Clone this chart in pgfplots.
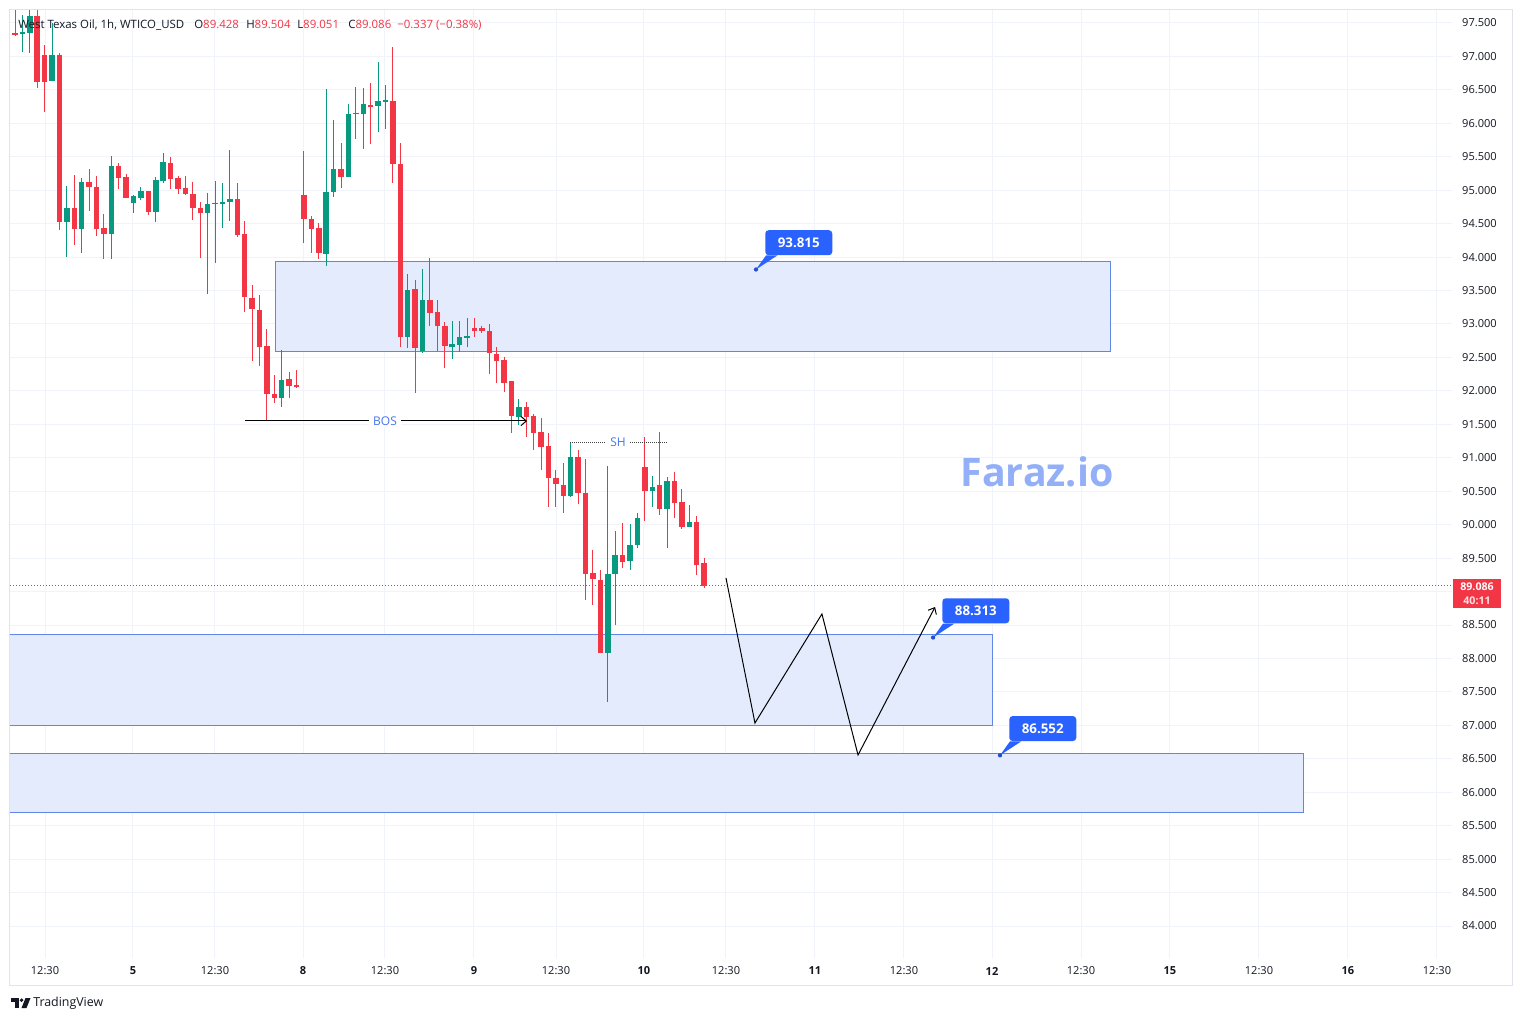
\documentclass[border=0pt]{standalone}
\usepackage{pgfplots}
\pgfplotsset{compat=1.18}
\usepackage{pgfplotstable}
\usepackage{fontspec}
\setmainfont{Open Sans}
\usetikzlibrary{arrows.meta}
\definecolor{tvred}{RGB}{242,54,69}
\definecolor{tvgreen}{RGB}{8,153,129}
\definecolor{gridc}{RGB}{240,243,250}
\definecolor{boxfill}{RGB}{227,235,253}
\definecolor{boxline}{RGB}{96,134,230}
\definecolor{cblue}{RGB}{41,98,255}
\definecolor{txt}{RGB}{19,23,34}
\definecolor{faraz}{RGB}{146,175,247}
\definecolor{bosc}{RGB}{70,118,235}
\definecolor{framec}{RGB}{224,227,235}

\pgfplotstableread{
i o h l c
2 97.33 97.62 97.07 97.37
3 97.35 97.69 97.05 97.60
6 96.63 97.50 96.63 97.02
8 94.525 95.06 94.00 94.73
10 94.42 95.18 94.06 95.12
14 94.35 95.51 93.97 95.36
17 94.81 94.93 94.66 94.91
18 94.88 95.05 94.85 94.99
20 94.67 95.20 94.525 95.15
21 95.14 95.56 95.11 95.42
27 94.66 94.96 93.45 94.79
28 94.80 95.14 93.91 94.81
29 94.81 95.11 94.44 94.82
30 94.82 95.60 94.54 94.87
37 91.89 92.61 91.76 92.16
43 94.05 96.51 93.87 94.97
44 94.97 96.05 94.90 95.32
46 95.20 96.29 95.20 96.14
47 96.14 96.54 95.77 96.155
48 96.14 96.53 95.62 96.29
50 96.26 96.92 95.87 96.33
51 96.33 96.57 95.92 96.34
54 92.81 93.75 92.64 93.51
56 92.60 93.82 92.57 93.36
60 92.66 93.05 92.48 92.70
61 92.69 93.05 92.58 92.81
62 92.81 93.09 92.66 92.815
69 91.61 91.88 91.49 91.76
76 90.43 91.24 90.41 91.01
81 88.08 90.88 87.35 89.26
82 89.26 89.91 88.50 89.55
84 89.46 90.01 89.32 89.70
85 89.70 90.17 89.65 90.10
87 90.50 90.73 90.26 90.56
89 90.23 90.71 89.65 90.65
92 89.97 90.29 89.97 90.04
}\upcandles

\pgfplotstableread{
i o h l c
1 97.35 97.70 97.31 97.32
4 97.60 97.70 96.53 96.62
5 97.02 97.17 96.17 96.62
7 97.02 97.05 94.41 94.525
9 94.73 95.23 94.18 94.42
11 95.12 95.32 94.69 95.05
12 95.05 95.21 94.32 94.42
13 94.44 94.64 93.97 94.35
15 95.36 95.41 95.02 95.18
16 95.20 95.24 94.88 94.88
19 94.99 94.99 94.63 94.67
22 95.41 95.50 95.02 95.17
23 95.18 95.21 94.94 95.02
24 95.03 95.21 94.93 94.94
25 94.94 95.12 94.555 94.73
26 94.73 94.82 93.99 94.66
31 94.87 95.11 94.30 94.33
32 94.35 94.54 93.18 93.40
33 93.39 93.58 92.45 93.22
34 93.21 93.43 92.37 92.66
35 92.67 92.93 91.55 91.95
36 91.95 92.24 91.82 91.89
38 92.18 92.28 91.89 92.07
39 92.09 92.31 92.04 92.07
40 94.93 95.59 94.21 94.57
41 94.57 94.61 94.06 94.42
42 94.44 94.51 93.97 94.06
45 95.32 95.71 95.03 95.20
49 96.27 96.60 95.69 96.26
52 96.33 97.14 95.11 95.39
53 95.39 95.71 92.66 92.81
55 93.52 93.66 91.97 92.64
57 93.36 93.99 92.97 93.16
58 93.18 93.36 92.60 92.97
59 92.97 93.03 92.34 92.67
63 92.94 93.09 92.81 92.90
64 92.94 92.97 92.87 92.90
65 92.90 93.00 92.25 92.57
66 92.55 92.66 92.12 92.45
67 92.46 92.50 91.98 92.12
68 92.15 92.15 91.37 91.62
70 91.76 91.83 91.31 91.61
71 91.62 91.65 91.12 91.37
72 91.39 91.59 90.82 91.16
73 91.18 91.37 90.26 90.70
74 90.70 90.82 90.26 90.61
75 90.59 90.92 90.17 90.43
77 91.01 91.12 90.31 90.47
78 90.47 90.98 88.87 89.26
79 89.28 89.62 88.80 89.19
80 89.17 89.32 88.08 88.08
83 89.55 90.02 89.35 89.44
86 90.86 91.31 90.055 90.50
88 90.59 91.39 90.14 90.23
90 90.65 90.79 90.10 90.32
91 90.34 90.53 89.94 89.97
93 90.04 90.13 89.25 89.40
94 89.428 89.504 89.051 89.086
}\downcandles

\pgfplotsset{candle/.style={only marks, mark size=0pt, mark options={draw=none, fill=none},
  error bars/.cd, y dir=both, y explicit, error mark=none}}

\begin{document}
\begin{tikzpicture}
\useasboundingbox (0pt,0pt) rectangle (1142.25pt,-765.75pt);
\fill[white] (0pt,0pt) rectangle (1142.25pt,-765.75pt);
\begin{axis}[
  at={(7.5pt,-718.5pt)}, anchor=south west,
  width=1081.5pt, height=711pt, scale only axis,
  xmin=0.325, xmax=194.93, ymin=83.522, ymax=97.694,
  axis line style={draw=none},
  major tick length=0pt,
  grid=major,
  major grid style={line width=0.75pt, draw=gridc},
  extra y ticks={89}, extra y tick labels={},
  extra tick style={grid=major, major grid style={line width=0.75pt, draw=gridc}},
  ytick={84,84.5,85,85.5,86,86.5,87,87.5,88,88.5,89.5,90,90.5,91,91.5,92,92.5,93,93.5,94,94.5,95,95.5,96,96.5,97,97.5},
  yticklabel pos=right,
  yticklabel={\pgfmathprintnumber[fixed,fixed zerofill,precision=3,1000 sep={}]{\tick}},
  yticklabel style={anchor=east, inner sep=0pt, xshift=33.75pt, font=\fontsize{8.3}{10}\selectfont, text=txt},
  xtick={5.05,16.92,27.99,39.87,50.93,62.94,74.01,85.88,96.95,108.96,120.97,132.85,144.86,156.87,168.88,180.89,192.9},
  xticklabels={12:30,\textbf{5},12:30,\textbf{8},12:30,\textbf{9},12:30,\textbf{10},12:30,\textbf{11},12:30,\textbf{12},12:30,\textbf{15},12:30,\textbf{16},12:30},
  xticklabel style={anchor=center, inner sep=0pt, yshift=-9.75pt, font=\fontsize{8.3}{10}\selectfont, text=txt},
  /pgf/number format/assume math mode=true,
]
% zones
\addplot[draw=boxline, line width=0.75pt, fill=boxfill] coordinates {(36.09,92.596) (148.9,92.596) (148.9,93.927) (36.09,93.927) (36.09,92.596)};
\addplot[draw=boxline, line width=0.75pt, fill=boxfill] coordinates {(0.2,87.005) (132.85,87.005) (132.85,88.351) (0.2,88.351) (0.2,87.005)};
\addplot[draw=boxline, line width=0.75pt, fill=boxfill] coordinates {(0.2,85.69) (174.82,85.69) (174.82,86.572) (0.2,86.572) (0.2,85.69)};
% current price line
\addplot[tvred, line width=0.75pt, dash pattern=on 0.75pt off 1.5pt] coordinates {(0.325,89.086) (194.93,89.086)};
% wicks
\addplot[candle, error bar style={line width=0.75pt, draw=tvgreen}]
  table[x=i, y expr={(\thisrow{h}+\thisrow{l})/2}, y error expr={(\thisrow{h}-\thisrow{l})/2}] {\upcandles};
\addplot[candle, error bar style={line width=0.75pt, draw=tvred}]
  table[x=i, y expr={(\thisrow{h}+\thisrow{l})/2}, y error expr={(\thisrow{h}-\thisrow{l})/2}] {\downcandles};
% bodies
\addplot[candle, error bar style={line width=4.1pt, draw=tvgreen}]
  table[x=i, y expr={(\thisrow{o}+\thisrow{c})/2}, y error expr={max(abs(\thisrow{c}-\thisrow{o})/2,0.0075)}] {\upcandles};
\addplot[candle, error bar style={line width=4.1pt, draw=tvred}]
  table[x=i, y expr={(\thisrow{o}+\thisrow{c})/2}, y error expr={max(abs(\thisrow{c}-\thisrow{o})/2,0.0075)}] {\downcandles};
% BOS
\addplot[black, line width=0.75pt, -{Straight Barb[length=4pt,width=7pt]}] coordinates {(32.04,91.55) (70.1,91.55)};
\node[fill=white, inner xsep=3pt, inner ysep=1pt, text=bosc, font=\fontsize{9}{10}\selectfont] at (axis cs:50.93,91.55) {BOS};
% SH
\addplot[black!75, line width=0.6pt, dash pattern=on 0.75pt off 0.75pt] coordinates {(75.9,91.236) (88.99,91.236)};
\node[fill=white, inner xsep=3pt, inner ysep=1pt, text=bosc, font=\fontsize{9}{10}\selectfont] at (axis cs:82.38,91.236) {SH};
% path projection
\addplot[black, line width=0.75pt, -{Straight Barb[length=4pt,width=7pt]}] coordinates {(96.95,89.203) (100.86,87.035) (109.90,88.665) (114.77,86.557) (125.16,88.769)};
% watermark
\node[text=faraz, font=\fontsize{29.5}{32}\selectfont\bfseries] at (axis cs:138.93,90.787) {Faraz.io};
% callouts
\fill[cblue] (axis cs:101.0,93.815) -- ([xshift=7.5pt,yshift=10.5pt]axis cs:101.0,93.815) -- ([xshift=16pt,yshift=10.5pt]axis cs:101.0,93.815) -- cycle;
\fill[cblue!80!black] (axis cs:101.0,93.815) circle (1.6pt);
\node[anchor=south west, fill=cblue, rounded corners=2.5pt, minimum width=50.25pt, minimum height=18.75pt, inner sep=0pt, text=white, font=\fontsize{10}{11}\selectfont\bfseries] at ([xshift=6.75pt,yshift=10.5pt]axis cs:101.0,93.815) {93.815};
\fill[cblue] (axis cs:124.9,88.313) -- ([xshift=7.5pt,yshift=10.5pt]axis cs:124.9,88.313) -- ([xshift=16pt,yshift=10.5pt]axis cs:124.9,88.313) -- cycle;
\fill[cblue!80!black] (axis cs:124.9,88.313) circle (1.6pt);
\node[anchor=south west, fill=cblue, rounded corners=2.5pt, minimum width=50.25pt, minimum height=18.75pt, inner sep=0pt, text=white, font=\fontsize{10}{11}\selectfont\bfseries] at ([xshift=6.75pt,yshift=10.5pt]axis cs:124.9,88.313) {88.313};
\fill[cblue] (axis cs:133.93,86.552) -- ([xshift=7.5pt,yshift=10.5pt]axis cs:133.93,86.552) -- ([xshift=16pt,yshift=10.5pt]axis cs:133.93,86.552) -- cycle;
\fill[cblue!80!black] (axis cs:133.93,86.552) circle (1.6pt);
\node[anchor=south west, fill=cblue, rounded corners=2.5pt, minimum width=50.25pt, minimum height=18.75pt, inner sep=0pt, text=white, font=\fontsize{10}{11}\selectfont\bfseries] at ([xshift=6.75pt,yshift=10.5pt]axis cs:133.93,86.552) {86.552};
\end{axis}
\begin{scope}[x=0.75pt, y=-0.75pt]
  \draw[framec, line width=0.75pt] (9.5,9.5) rectangle (1512.5,985.5);
  % header
  \node[anchor=base west, inner sep=0pt, text=txt, font=\fontsize{8.6}{11}\selectfont] at (18,28) {West Texas Oil, 1h, WTICO\_USD};
  \node[anchor=base west, inner sep=0pt, font=\fontsize{8.6}{11}\selectfont] at (194,28) {\textcolor{txt}{O}\textcolor{tvred}{89.428}};
  \node[anchor=base west, inner sep=0pt, font=\fontsize{8.6}{11}\selectfont] at (246,28) {\textcolor{txt}{H}\textcolor{tvred}{89.504}};
  \node[anchor=base west, inner sep=0pt, font=\fontsize{8.6}{11}\selectfont] at (297,28) {\textcolor{txt}{L}\textcolor{tvred}{89.051}};
  \node[anchor=base west, inner sep=0pt, font=\fontsize{8.6}{11}\selectfont] at (348,28) {\textcolor{txt}{C}\textcolor{tvred}{89.086}};
  \node[anchor=base west, inner sep=0pt, text=tvred, font=\fontsize{8.6}{11}\selectfont] at (397,28) {−0.337 (−0.38\%)};
  % price label
  \fill[tvred] (1453,579) rectangle (1501,608);
  \node[text=white, font=\fontsize{8}{9}\selectfont\bfseries, inner sep=0pt] at (1477,586.5) {89.086};
  \node[text=white!85!tvred, font=\fontsize{8}{9}\selectfont\bfseries, inner sep=0pt] at (1477,600.5) {40:11};
  % TradingView logo
  \fill[txt] (11,998) rectangle (19,1001.5);
  \fill[txt] (15.3,998) rectangle (19,1008);
  \fill[txt] (21.6,1000.2) circle (1.9);
  \fill[txt] (25.5,998) -- (30.5,998) -- (26.5,1008) -- (21.5,1008) -- cycle;
  \node[anchor=west, inner sep=0pt, text=txt, font=\fontsize{9.3}{11}\selectfont] at (33,1003.5) {TradingView};
\end{scope}
\end{tikzpicture}
\end{document}
